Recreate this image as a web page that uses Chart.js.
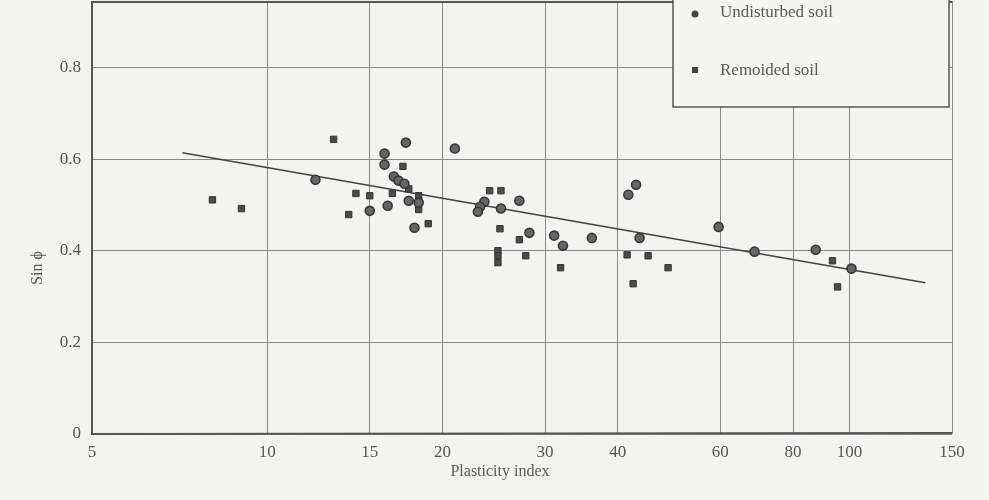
<!DOCTYPE html>
<html>
<head>
<meta charset="utf-8">
<script src="https://cdn.jsdelivr.net/npm/chart.js@4"></script>
<style>
  html, body { margin: 0; padding: 0; background: #f3f3f1; }
  #chart { display: block; }
</style>
</head>
<body>
<canvas id="chart" width="989" height="500"></canvas>
<script>
// Plasticity index vs sin(phi)
const undisturbedPI  = [12.1, 15.0, 15.9, 15.9, 16.1, 16.5, 16.8, 17.2, 17.3, 17.5, 18.2, 17.9, 21.0, 23.6, 23.2, 23.0, 25.2, 27.1, 28.2, 31.1, 32.2, 36.1, 41.7, 43.0, 43.6, 59.6, 68.7, 87.5, 100.8];
const undisturbedSin = [0.555, 0.487, 0.612, 0.588, 0.498, 0.562, 0.553, 0.546, 0.636, 0.509, 0.505, 0.450, 0.623, 0.507, 0.496, 0.485, 0.492, 0.509, 0.439, 0.433, 0.411, 0.428, 0.522, 0.544, 0.428, 0.452, 0.398, 0.402, 0.361];

const remoldedPI  = [8.05, 9.03, 13.0, 13.8, 14.2, 15.0, 16.4, 17.1, 17.5, 18.2, 18.2, 18.9, 24.1, 25.2, 25.1, 24.9, 24.9, 24.9, 27.1, 27.8, 31.9, 41.5, 45.1, 42.5, 48.8, 93.5, 95.4];
const remoldedSin = [0.511, 0.492, 0.643, 0.479, 0.525, 0.520, 0.525, 0.584, 0.535, 0.520, 0.490, 0.459, 0.531, 0.531, 0.448, 0.400, 0.389, 0.374, 0.424, 0.389, 0.363, 0.391, 0.389, 0.328, 0.363, 0.378, 0.321];

// fitted trend line (end points)
const trendPI  = [7.15, 135];
const trendSin = [0.614, 0.330];

const xTicks = [5, 10, 15, 20, 30, 40, 60, 80, 100, 150];
const yTicks = [0, 0.2, 0.4, 0.6, 0.8];

const legendLabels = ['Undisturbed soil', 'Remoided soil'];

const serif = '"Liberation Serif", "DejaVu Serif", serif';

function toPoints(xs, ys) {
  return xs.map((x, i) => ({ x: x, y: ys[i] }));
}

// frame, axis titles and the boxed legend
const decorations = {
  id: 'decorations',
  afterDraw(chart) {
    const { ctx, chartArea: a } = chart;
    ctx.save();
    // heavier frame lines
    ctx.strokeStyle = '#555';
    ctx.lineWidth = 2;
    ctx.beginPath();
    ctx.moveTo(a.left, a.top + 1);
    ctx.lineTo(a.right, a.top + 1);
    ctx.stroke();
    ctx.beginPath();
    ctx.moveTo(a.left, a.top);
    ctx.lineTo(a.left, a.bottom);
    ctx.lineTo(a.right, a.bottom - 1);
    ctx.stroke();

    // legend box
    const bx = 673, by = -4, bw = 276, bh = 111;
    ctx.fillStyle = '#f4f4f2';
    ctx.fillRect(bx, by, bw, bh);
    ctx.strokeStyle = '#555';
    ctx.lineWidth = 1.5;
    ctx.strokeRect(bx, by, bw, bh);

    ctx.fillStyle = '#444';
    ctx.beginPath();
    ctx.arc(695, 14, 3.5, 0, Math.PI * 2);
    ctx.fill();
    ctx.fillRect(692, 67, 6, 6);

    ctx.fillStyle = '#5a5a5a';
    ctx.font = '17px ' + serif;
    ctx.textBaseline = 'middle';
    ctx.textAlign = 'left';
    ctx.fillText(legendLabels[0], 720, 13);
    ctx.fillText(legendLabels[1], 720, 71);

    // axis titles
    ctx.font = '16px ' + serif;
    ctx.textAlign = 'center';
    ctx.fillText('Plasticity index', 500, 472);
    ctx.translate(38, 268);
    ctx.rotate(-Math.PI / 2);
    ctx.fillText('Sin \u03D5', 0, 0);
    ctx.restore();
  }
};

new Chart(document.getElementById('chart'), {
  type: 'scatter',
  data: {
    datasets: [
      {
        label: legendLabels[0],
        data: toPoints(undisturbedPI, undisturbedSin),
        pointStyle: 'circle',
        pointRadius: 4.5,
        backgroundColor: '#666',
        borderColor: '#363636',
        borderWidth: 1.6
      },
      {
        label: legendLabels[1],
        data: toPoints(remoldedPI, remoldedSin),
        pointStyle: 'rect',
        pointRadius: 4.5,
        backgroundColor: '#4a4a4a',
        borderColor: '#363636',
        borderWidth: 1
      },
      {
        type: 'line',
        label: 'trend',
        data: toPoints(trendPI, trendSin),
        borderColor: '#444',
        borderWidth: 1.6,
        pointRadius: 0,
        fill: false
      }
    ]
  },
  options: {
    responsive: false,
    animation: false,
    devicePixelRatio: 1,
    layout: { autoPadding: false, padding: { top: 1, right: 37, left: 0, bottom: 0 } },
    plugins: {
      legend: { display: false },
      tooltip: { enabled: false }
    },
    scales: {
      x: {
        type: 'logarithmic',
        min: 5,
        max: 150,
        afterBuildTicks: s => { s.ticks = xTicks.map(v => ({ value: v })); },
        afterFit: s => { s.height = 66; s.paddingLeft = 0; s.paddingRight = 0; },
        grid: { color: '#8a8a8a', lineWidth: 1, drawTicks: false },
        border: { display: false },
        ticks: {
          padding: 8,
          color: '#555',
          font: { family: serif, size: 17 },
          callback: v => String(v),
          maxRotation: 0,
          autoSkip: false
        }
      },
      y: {
        min: 0,
        max: 0.945,
        afterBuildTicks: s => { s.ticks = yTicks.map(v => ({ value: v })); },
        afterFit: s => { s.width = 92; s.paddingTop = 0; s.paddingBottom = 0; },
        grid: { color: '#8a8a8a', lineWidth: 1, drawTicks: false },
        border: { display: false },
        ticks: {
          padding: 11,
          color: '#555',
          font: { family: serif, size: 17 },
          callback: v => (v === 0 ? '0' : v.toFixed(1))
        }
      }
    }
  },
  plugins: [decorations]
});
</script>
</body>
</html>
